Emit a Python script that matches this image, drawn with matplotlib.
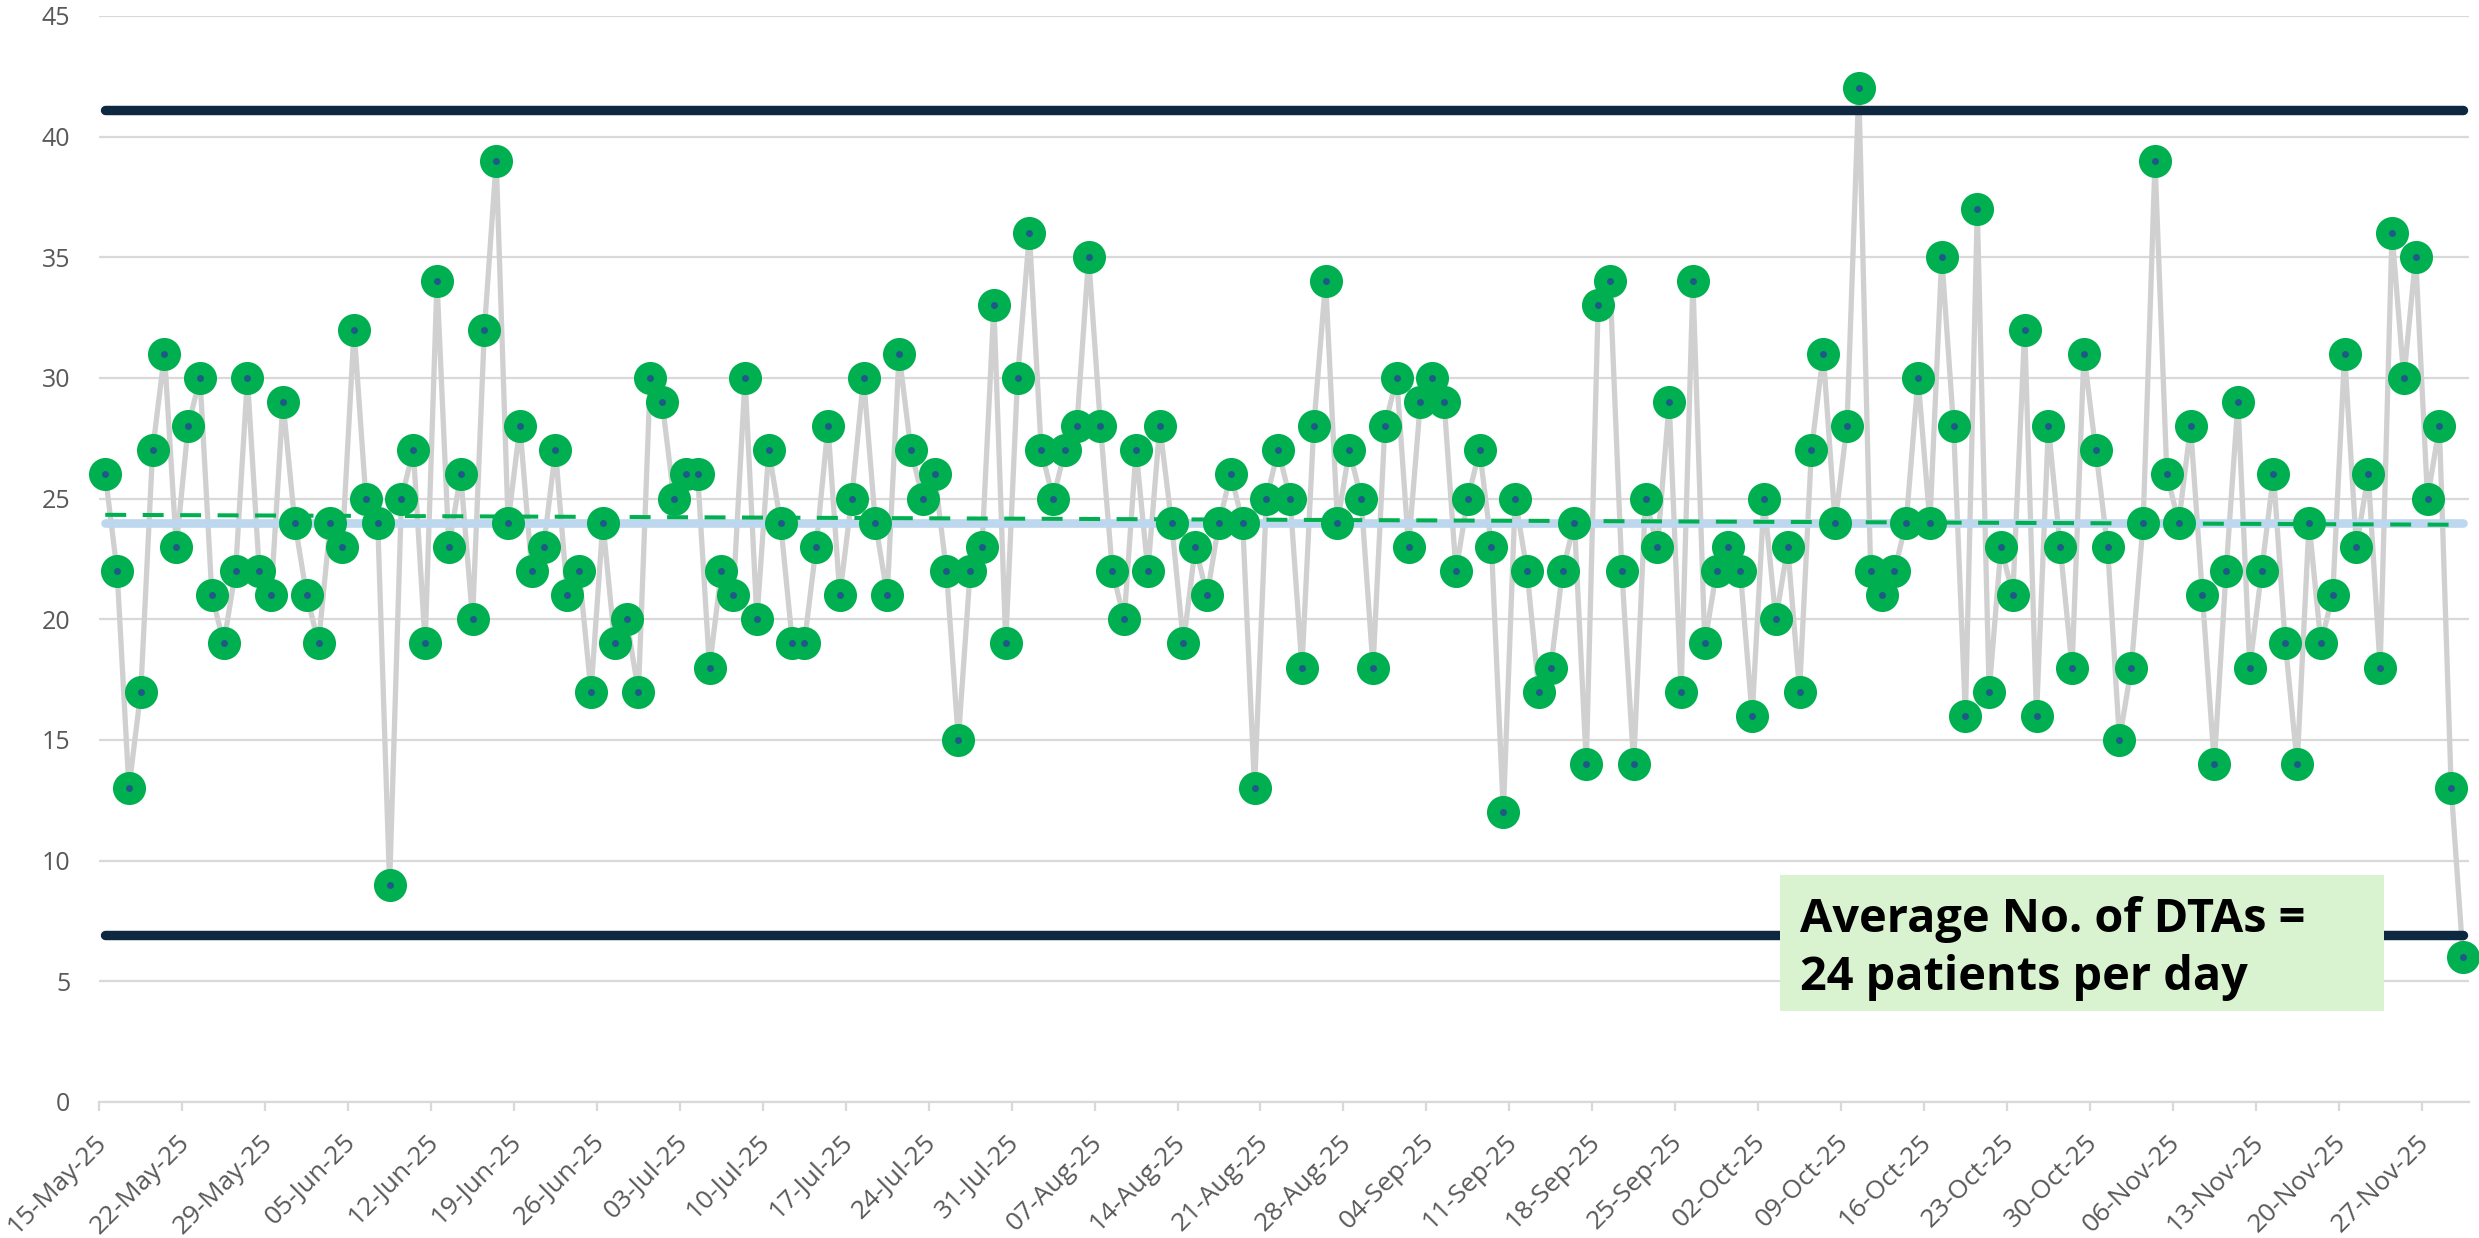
import numpy as np
import matplotlib
matplotlib.use("Agg")
import matplotlib.pyplot as plt
from matplotlib.patches import Rectangle
import matplotlib.transforms as mtransforms

# ---------------- data ----------------
dtas = [
    26, 22, 13, 17, 27, 31, 23, 28, 30, 21,
    19, 22, 30, 22, 21, 29, 24, 21, 19, 24,
    23, 32, 25, 24, 9, 25, 27, 19, 34, 23,
    26, 20, 32, 39, 24, 28, 22, 23, 27, 21,
    22, 17, 24, 19, 20, 17, 30, 29, 25, 26,
    26, 18, 22, 21, 30, 20, 27, 24, 19, 19,
    23, 28, 21, 25, 30, 24, 21, 31, 27, 25,
    26, 22, 15, 22, 23, 33, 19, 30, 36, 27,
    25, 27, 28, 35, 28, 22, 20, 27, 22, 28,
    24, 19, 23, 21, 24, 26, 24, 13, 25, 27,
    25, 18, 28, 34, 24, 27, 25, 18, 28, 30,
    23, 29, 30, 29, 22, 25, 27, 23, 12, 25,
    22, 17, 18, 22, 24, 14, 33, 34, 22, 14,
    25, 23, 29, 17, 34, 19, 22, 23, 22, 16,
    25, 20, 23, 17, 27, 31, 24, 28, 42, 22,
    21, 22, 24, 30, 24, 35, 28, 16, 37, 17,
    23, 21, 32, 16, 28, 23, 18, 31, 27, 23,
    15, 18, 24, 39, 26, 24, 28, 21, 14, 22,
    29, 18, 22, 26, 19, 14, 24, 19, 21, 31,
    23, 26, 18, 36, 30, 35, 25, 28, 13, 6,
]

tick_labels = [
    "15-May-25", "22-May-25", "29-May-25", "05-Jun-25", "12-Jun-25",
    "19-Jun-25", "26-Jun-25", "03-Jul-25", "10-Jul-25", "17-Jul-25",
    "24-Jul-25", "31-Jul-25", "07-Aug-25", "14-Aug-25", "21-Aug-25",
    "28-Aug-25", "04-Sep-25", "11-Sep-25", "18-Sep-25", "25-Sep-25",
    "02-Oct-25", "09-Oct-25", "16-Oct-25", "23-Oct-25", "30-Oct-25",
    "06-Nov-25", "13-Nov-25", "20-Nov-25", "27-Nov-25",
]

mean_value = 24.0
ucl_value = 41.1
lcl_value = 6.9
note_lines = ["Average No. of DTAs =", "24 patients per day"]

# ---------------- style ----------------
plt.rcParams['font.family'] = ['Open Sans', 'DejaVu Sans']

GREEN = '#00B050'
DOT = '#1F5A87'
GREY_LINE = '#D0D0D0'
NAVY = '#0E2841'
LIGHT_BLUE = '#BDD7EE'
GRID = '#D9D9D9'
LABEL = '#595959'

W, H = 2479, 1238
fig = plt.figure(figsize=(W / 100, H / 100), dpi=100)
ax = fig.add_axes([0.04006, 0.1099, 0.9559, 0.8773])

n = len(dtas)
x = np.arange(n) + 0.5
y = np.array(dtas, dtype=float)

ax.set_xlim(0, n)
ax.set_ylim(0, 45)
ax.set_yticks(np.arange(0, 46, 5))
ax.yaxis.grid(True, color=GRID, lw=1.6)
ax.set_axisbelow(True)
for s in ['top', 'right', 'left']:
    ax.spines[s].set_visible(False)
ax.spines['bottom'].set_color(GRID)
ax.spines['bottom'].set_linewidth(1.6)

ax.tick_params(axis='y', length=0, pad=21, labelsize=18, labelcolor=LABEL)
ax.tick_params(axis='x', length=6.5, width=1.6, color=GRID, pad=20,
               labelsize=19, labelcolor=LABEL)
ax.set_xticks(np.arange(0, n, 7)[:len(tick_labels)])
ax.set_xticklabels(tick_labels, rotation=45, ha='right', va='center',
                   rotation_mode='anchor')
offset = mtransforms.ScaledTranslation(4 / 100, 0, fig.dpi_scale_trans)
for lab in ax.get_xticklabels():
    lab.set_transform(lab.get_transform() + offset)

# data line
ax.plot(x, y, color=GREY_LINE, lw=3.8, zorder=2, solid_joinstyle='round')

# control limits and mean
ends = x[[0, -1]]
ax.plot(ends, [ucl_value, ucl_value], color=NAVY, lw=6.8,
        solid_capstyle='round', zorder=3)
ax.plot(ends, [lcl_value, lcl_value], color=NAVY, lw=6.8,
        solid_capstyle='round', zorder=3)
ax.plot(ends, [mean_value, mean_value], color=LIGHT_BLUE, lw=6.2,
        solid_capstyle='round', zorder=3)

# linear trend
coef = np.polyfit(x, y, 1)
ax.plot(ends, np.polyval(coef, ends), color=GREEN, lw=2.9,
        dashes=(5.2, 4.1), zorder=4)

# markers
ax.plot(x, y, 'o', ms=23.8, mfc=GREEN, mec='none', zorder=5, clip_on=False)
ax.plot(x, y, 'o', ms=5, mfc=DOT, mec='none', zorder=6, clip_on=False)

# annotation box
box = Rectangle((1780 / W, 1 - 1011 / H), (2384 - 1780) / W,
                (1011 - 875) / H, transform=fig.transFigure,
                facecolor='#D9F2D0', edgecolor='none', zorder=5)
fig.add_artist(box)
t1 = fig.text(1800 / W, 1 - 931.7 / H, note_lines[0], fontsize=34,
              fontweight='bold', color='black', ha='left', va='baseline',
              zorder=6)
t2 = fig.text(1800 / W, 1 - 990 / H, note_lines[1], fontsize=34,
              fontweight='bold', color='black', ha='left', va='baseline',
              zorder=6)

# fit the note text to the width of the reference text line (~506 px)
renderer = fig.canvas.get_renderer()
w1 = t1.get_window_extent(renderer).width
fs = 34 * 506.0 / w1
t1.set_fontsize(fs)
t2.set_fontsize(fs)

fig.savefig('out.png', dpi=100)
